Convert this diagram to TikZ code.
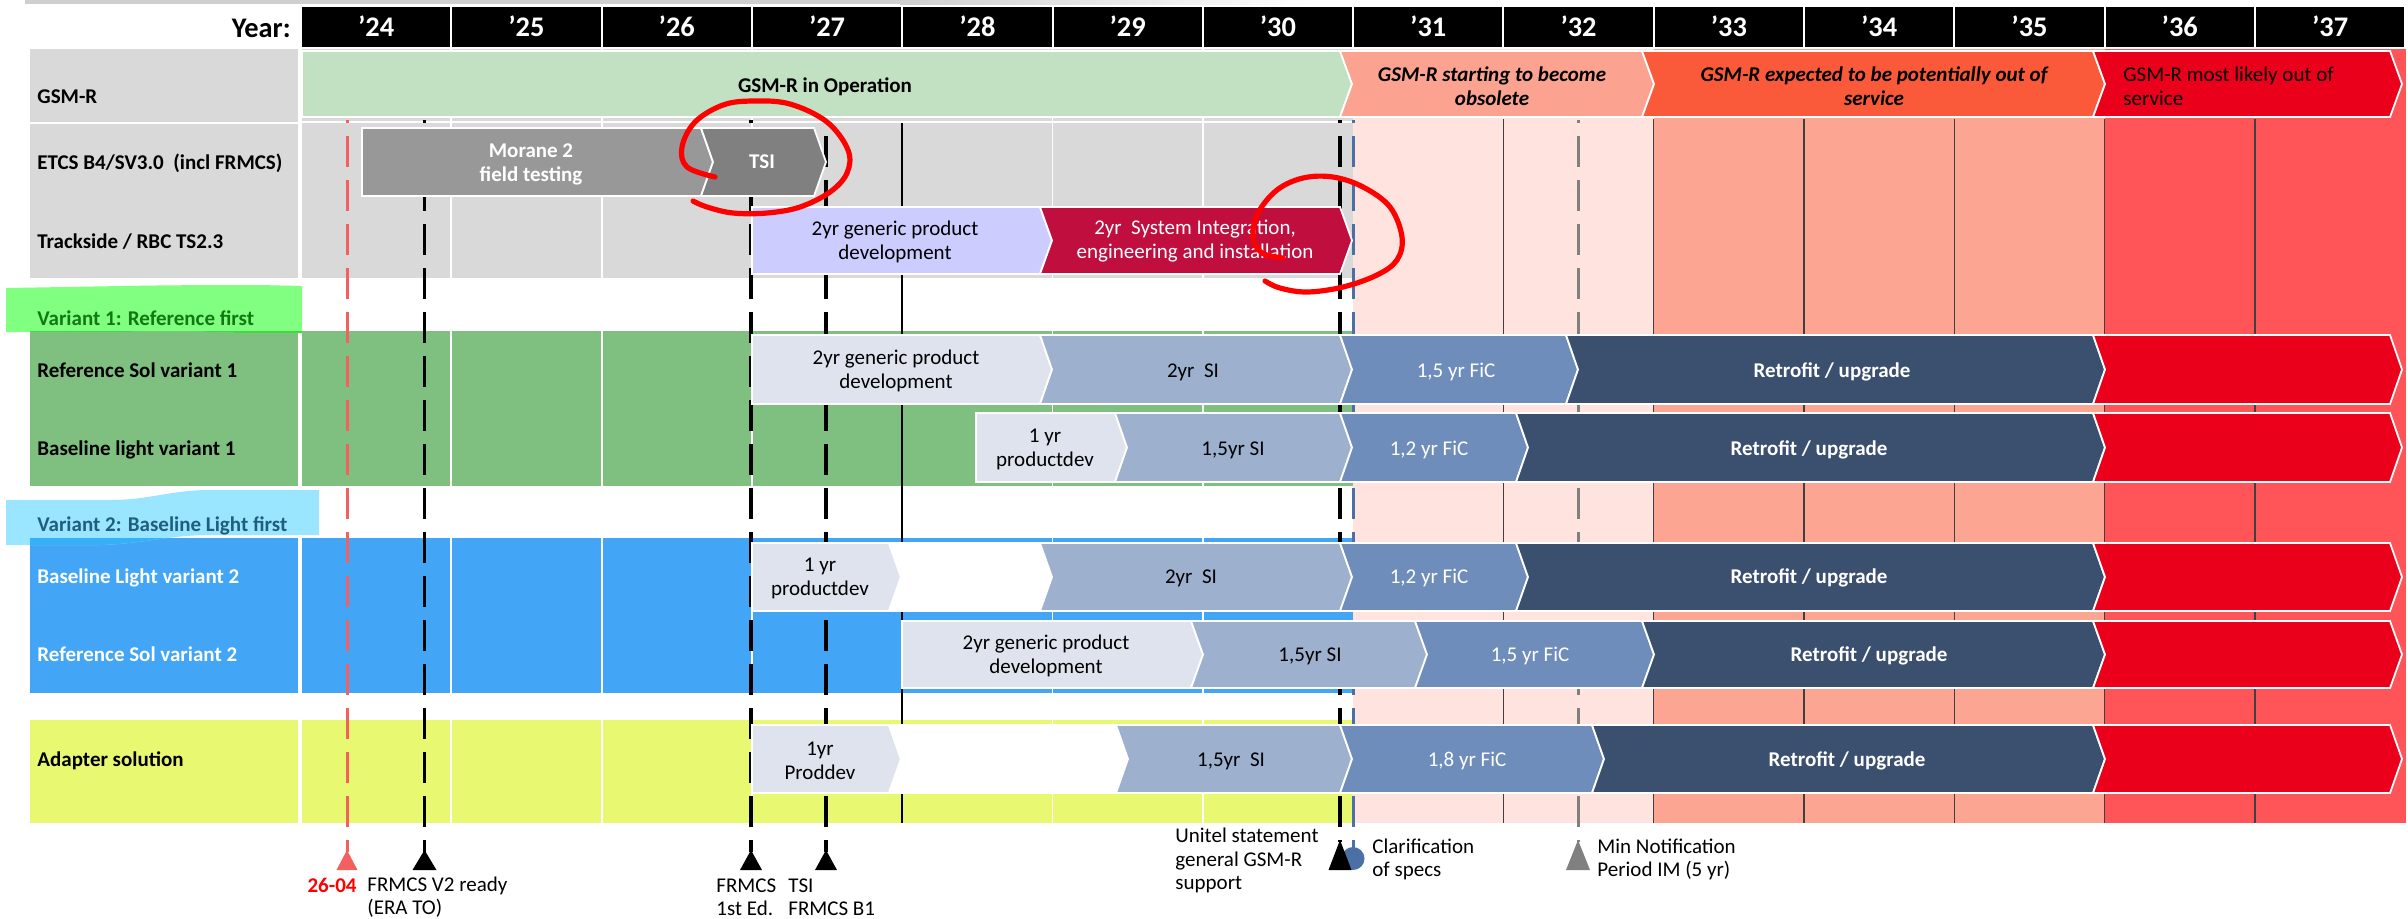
\documentclass[tikz,border=0pt]{standalone}
\usepackage{fontspec}
\setmainfont{Carlito}
\definecolor{lgray}{HTML}{D9D9D9}
\definecolor{shadowgray}{HTML}{CFCFCF}
\definecolor{gsmgreen}{HTML}{C2E0C2}
\definecolor{gsmsalmon}{HTML}{FBA291}
\definecolor{gsmorange}{HTML}{FB5A3A}
\definecolor{gsmred}{HTML}{EA001B}
\definecolor{bgpink}{HTML}{FEE3DF}
\definecolor{bgsalmon}{HTML}{FCA592}
\definecolor{bgred}{HTML}{FF5458}
\definecolor{rowgreen}{HTML}{7FBF7F}
\definecolor{rowblue}{HTML}{42A5F5}
\definecolor{rowyellow}{HTML}{E8F870}
\definecolor{hlgreen}{HTML}{80FF80}
\definecolor{hlgreenx}{HTML}{45D545}
\definecolor{hlblue}{HTML}{9AE5FF}
\definecolor{hlbluex}{HTML}{38B0F8}
\definecolor{vgreen}{HTML}{127812}
\definecolor{vblue}{HTML}{1F5E7E}
\definecolor{cLight}{HTML}{DEE3EE}
\definecolor{cMid}{HTML}{9DB0CE}
\definecolor{cSteel}{HTML}{6F8DBA}
\definecolor{cNavy}{HTML}{3A506E}
\definecolor{cLav}{HTML}{CCCCFF}
\definecolor{cCrim}{HTML}{C00E3E}
\definecolor{cMorane}{HTML}{989898}
\definecolor{cTSI}{HTML}{808080}
\definecolor{mkred}{HTML}{F45F5F}
\definecolor{mkblue}{HTML}{4B70A6}
\definecolor{mkgray}{HTML}{808080}
\definecolor{gridline}{HTML}{404040}
\definecolor{datered}{HTML}{FF0000}

% chevron: fill, left x, tip x, top y, bottom y, notch depth
\newcommand{\chevshape}[6]{%
  \filldraw[chev,fill=#1] (#2,#4) -- ({#3-12},#4) -- (#3,{(#4+#5)/2})
    -- ({#3-12},#5) -- (#2,#5) -- ({#2+#6},{(#4+#5)/2}) -- cycle;}

\newcommand{\bodyfont}{\fontsize{10.5}{12}\selectfont}

\tikzset{
  chev/.style={draw=white,line width=0.9pt,line join=miter},
  ctxt/.style={inner sep=0pt,align=center,font=\bodyfont},
  one/.style={text height=6.6pt,text depth=0pt},
  wtxt/.style={ctxt,text=white},
  btxt/.style={ctxt,text=white,font=\bfseries\bodyfont},
  gsmtxt/.style={ctxt,font=\bfseries\itshape\bodyfont},
  rowlbl/.style={anchor=west,inner sep=0pt,font=\bfseries\bodyfont,text height=6.6pt,text depth=0pt},
  yearlbl/.style={inner sep=0pt,text=white,font=\bfseries\fontsize{14.2}{16}\selectfont,text height=9pt,text depth=0pt},
  botlbl/.style={anchor=west,inner sep=0pt,align=left,font=\fontsize{10.5}{11.5}\selectfont},
  marker/.style={line width=1.75pt,dash pattern=on 15.5pt off 6.5pt,dash phase=14pt},
  ink/.style={draw=red,line width=2.6pt,line cap=round,line join=round}
}

\begin{document}
\begin{tikzpicture}[x=0.5pt,y=-0.5pt]
\useasboundingbox (0,0) rectangle (2408,918);

% faint rule above the header
\fill[shadowgray] (25,0) rectangle (900,4);
\shade[left color=shadowgray,right color=white] (900,0) rectangle (1315,4);

% year header
\node[anchor=east,inner sep=0pt,font=\bfseries\fontsize{14.2}{16}\selectfont,text height=9pt,text depth=0pt] (yearhdr) at (291,28) {Year:};
\foreach \k/\yr in {0/24,1/25,2/26,3/27,4/28,5/29,6/30,7/31,8/32,9/33,10/34,11/35,12/36,13/37}{
  \fill[black] ({301+150.3*\k+1},7) rectangle ({301+150.3*(\k+1)-1},47);
  \node[yearlbl] (yr\yr) at ({301+150.3*(\k+0.5)},27.5) {’\yr};
}

% row backgrounds
\fill[lgray] (30,49) rectangle (298,122);
\fill[lgray] (302,49) rectangle (1353,121);
\fill[lgray] (30,124) rectangle (298,278);
\fill[lgray] (302,123) rectangle (1353,278);
\fill[rowgreen] (30,331) rectangle (1353,486);
\fill[rowblue] (30,538) rectangle (1353,693);
\fill[rowyellow] (30,720) rectangle (1353,823);

% GSM-R phase-out background
\fill[bgpink] (1353,49) rectangle (1654,823);
\fill[bgsalmon] (1654,49) rectangle (2105,823);
\fill[bgred] (2105,49) rectangle (2406,823);

% year grid
\draw[white,line width=2pt] (300,49) -- (300,823);
\foreach \k in {1,2,3,5,6}{
  \draw[white,line width=0.9pt] ({301+150.3*\k},49) -- ({301+150.3*\k},823);
}
\draw[black,line width=0.6pt] (902,123) -- (902,823);
\foreach \k in {8,...,13}{
  \draw[gridline,line width=0.75pt] ({301+150.3*\k},119) -- ({301+150.3*\k},823);
}

% variant headings (highlighter strokes)
\fill[hlgreen] (6,288) -- (122,286) .. controls (180,285) and (220,285) .. (260,285)
  -- (302,286) -- (302,333) -- (240,333) .. controls (200,331) and (160,331) .. (120,332) -- (6,332) -- cycle;
\begin{scope}
  \clip (30,331) rectangle (1353,486);
  \fill[hlgreenx] (6,288) -- (302,286) -- (302,333) -- (240,333) .. controls (200,331) and (160,331) .. (120,332) -- (6,332) -- cycle;
\end{scope}
\fill[hlblue] (6,500) -- (110,500) .. controls (150,500) and (170,490) .. (210,490) -- (319,490)
  -- (319,535) -- (210,535) .. controls (170,535) and (140,544) .. (100,545) -- (6,545) -- cycle;
\begin{scope}
  \clip (30,538) rectangle (1353,693);
  \fill[hlbluex] (6,500) -- (319,490) -- (319,535) -- (210,535) .. controls (170,535) and (140,544) .. (100,545) -- (6,545) -- cycle;
\end{scope}

% row labels
\node[rowlbl] (lgsm) at (37,97) {GSM-R};
\node[rowlbl] (letcs) at (37,163) {ETCS B4/SV3.0~ (incl FRMCS)};
\node[rowlbl] (ltrack) at (37,242) {Trackside / RBC TS2.3};
\node[rowlbl,text=vgreen] (lvar1) at (37,318.5) {Variant 1: Reference first};
\node[rowlbl] (lref1) at (37,371) {Reference Sol variant 1};
\node[rowlbl] (lbase1) at (37,449) {Baseline light variant 1};
\node[rowlbl,text=vblue] (lvar2) at (37,525) {Variant 2: Baseline Light first};
\node[rowlbl,text=white] (lbase2) at (37,577) {Baseline Light variant 2};
\node[rowlbl,text=white] (lref2) at (37,655) {Reference Sol variant 2};
\node[rowlbl] (ladapt) at (37,760) {Adapter solution};

% milestone lines
\coordinate (m1t) at (347,120);    \coordinate (m1b) at (347,852);
\coordinate (m2t) at (424.5,120);  \coordinate (m2b) at (424.5,852);
\coordinate (m3t) at (751,120);    \coordinate (m3b) at (751,852);
\coordinate (m4t) at (826,120);    \coordinate (m4b) at (826,852);
\coordinate (m5t) at (1340,120);   \coordinate (m5b) at (1340,842);
\coordinate (m6t) at (1353,120);   \coordinate (m6b) at (1353,850);
\coordinate (m7t) at (1578,120);   \coordinate (m7b) at (1578,842);
\draw[marker,mkred,line width=1.5pt] (m1t) -- (m1b);
\draw[marker,black] (m2t) -- (m2b);
\draw[marker,black] (m3t) -- (m3b);
\draw[marker,black] (m4t) -- (m4b);
\draw[marker,black] (m5t) -- (m5b);
\draw[marker,mkblue,line width=1.5pt] (m6t) -- (m6b);
\draw[marker,mkgray,line width=1.5pt] (m7t) -- (m7b);

% GSM-R status
\chevshape{gsmgreen}{302}{1352}{51}{117}{0}
\chevshape{gsmsalmon}{1340}{1654}{51}{117}{12}
\chevshape{gsmorange}{1642}{2105}{51}{117}{12}
\chevshape{gsmred}{2093}{2402}{51}{117}{12}
\node[ctxt,one,font=\bfseries\bodyfont] (gsmop) at (825,85.5) {GSM-R in Operation};
\node[gsmtxt] (gsmobs) at (1492,86) {GSM-R starting to become\\obsolete};
\node[gsmtxt] (gsmout) at (1874,86) {GSM-R expected to be potentially out of\\service};
\node[ctxt,anchor=west,align=left] (gsmgone) at (2123,86) {GSM-R most likely out of\\service};

% ETCS
\chevshape{cMorane}{362}{713}{128}{196}{0}
\chevshape{cTSI}{701}{826}{128}{196}{12}
\node[btxt] (morane) at (531,164) {Morane 2\\field testing};
\node[btxt,one] (tsi) at (762,162) {TSI};

% Trackside
\chevshape{cLav}{752}{1052}{207}{274}{0}
\chevshape{cCrim}{1040}{1352}{207}{274}{12}
\node[ctxt] (trkdev) at (895,241.5) {2yr generic product\\development};
\node[wtxt] (trksi) at (1195,241.5) {2yr~ System Integration,\\engineering and installation};

% Reference Sol variant 1
\chevshape{cLight}{752}{1052}{335}{404}{0}
\chevshape{cMid}{1040}{1352}{335}{404}{12}
\chevshape{cSteel}{1340}{1578}{335}{404}{12}
\chevshape{cNavy}{1566}{2105}{335}{404}{12}
\chevshape{gsmred}{2093}{2402}{335}{404}{12}
\node[ctxt] (r1dev) at (896,371) {2yr generic product\\development};
\node[ctxt,one] (r1si) at (1193,371) {2yr~ SI};
\node[wtxt,one] (r1fic) at (1456,371) {1,5 yr FiC};
\node[btxt,one] (r1ret) at (1832,371) {Retrofit / upgrade};

% Baseline light variant 1
\chevshape{cLight}{976}{1127}{413}{482}{0}
\chevshape{cMid}{1115}{1352}{413}{482}{12}
\chevshape{cSteel}{1340}{1528}{413}{482}{12}
\chevshape{cNavy}{1516}{2105}{413}{482}{12}
\chevshape{gsmred}{2093}{2402}{413}{482}{12}
\node[ctxt] (b1dev) at (1045,449.5) {1 yr\\productdev};
\node[ctxt,one] (b1si) at (1233,449) {1,5yr SI};
\node[wtxt,one] (b1fic) at (1429,449) {1,2 yr FiC};
\node[btxt,one] (b1ret) at (1809,449) {Retrofit / upgrade};

% Baseline Light variant 2
\chevshape{cLight}{752}{901}{543}{611}{0}
\chevshape{white}{889}{1052}{543}{611}{12}
\chevshape{cMid}{1040}{1352}{543}{611}{12}
\chevshape{cSteel}{1340}{1528}{543}{611}{12}
\chevshape{cNavy}{1516}{2105}{543}{611}{12}
\chevshape{gsmred}{2093}{2402}{543}{611}{12}
\node[ctxt] (b2dev) at (820,578) {1 yr\\productdev};
\node[ctxt,one] (b2si) at (1191,577) {2yr~ SI};
\node[wtxt,one] (b2fic) at (1429,577) {1,2 yr FiC};
\node[btxt,one] (b2ret) at (1809,577) {Retrofit / upgrade};

% Reference Sol variant 2
\chevshape{cLight}{902}{1203}{621}{688}{0}
\chevshape{cMid}{1191}{1427}{621}{688}{12}
\chevshape{cSteel}{1415}{1654}{621}{688}{12}
\chevshape{cNavy}{1642}{2105}{621}{688}{12}
\chevshape{gsmred}{2093}{2402}{621}{688}{12}
\node[ctxt] (r2dev) at (1046,655.5) {2yr generic product\\development};
\node[ctxt,one] (r2si) at (1310,655) {1,5yr SI};
\node[wtxt,one] (r2fic) at (1530,655) {1,5 yr FiC};
\node[btxt,one] (r2ret) at (1869,655) {Retrofit / upgrade};

% Adapter solution
\chevshape{cLight}{752}{901}{725}{793}{0}
\chevshape{white}{889}{1128}{725}{793}{12}
\chevshape{cMid}{1116}{1352}{725}{793}{12}
\chevshape{cSteel}{1340}{1604}{725}{793}{12}
\chevshape{cNavy}{1592}{2105}{725}{793}{12}
\chevshape{gsmred}{2093}{2402}{725}{793}{12}
\node[ctxt] (adev) at (820,760.5) {1yr\\Proddev};
\node[ctxt,one] (asi) at (1231,760) {1,5yr~ SI};
\node[wtxt,one] (afic) at (1467,760) {1,8 yr FiC};
\node[btxt,one] (aret) at (1847,760) {Retrofit / upgrade};

% milestone markers
\fill[mkred] (m1b) ++(0,-2) -- ++(-10.5,20) -- ++(21,0) -- cycle;
\fill[black] (m2b) ++(0,-2) -- ++(-12,20) -- ++(24,0) -- cycle;
\fill[black] (m3b) ++(0,-2) -- ++(-11,20) -- ++(22,0) -- cycle;
\fill[black] (m4b) ++(0,-2) -- ++(-11,20) -- ++(22,0) -- cycle;
\fill[mkblue] (1353,858.5) ellipse [x radius=11.5,y radius=11.5];
\fill[black] (m5b) ++(0,-2) -- ++(-11.5,30) -- ++(23,0) -- cycle;
\fill[mkgray] (m7b) ++(0,-2) -- ++(-12,30) -- ++(24,0) -- cycle;

% milestone labels
\node[anchor=east,inner sep=0pt,text=datered,font=\bfseries\fontsize{10.5}{11.5}\selectfont,text height=6.6pt,text depth=0pt] (d2604) at (357,886) {26-04};
\node[botlbl] (frmcsv2) at (367,897.5) {FRMCS V2 ready\\(ERA TO)};
\node[botlbl] (frmcs1) at (716,897.5) {FRMCS\\1st Ed.};
\node[botlbl] (tsib1) at (788,897.5) {TSI\\FRMCS B1};
\node[botlbl,font=\fontsize{10.5}{11.75}\selectfont] (unitel) at (1175,860.5) {Unitel statement\\general GSM-R\\support};
\node[botlbl] (clarif) at (1372,859) {Clarification\\of specs};
\node[botlbl] (minnot) at (1597,859) {Min Notification\\Period IM (5 yr)};

% hand-drawn red rings
\draw[ink] plot[smooth,tension=0.6] coordinates {(715,177) (687,167) (682,147) (695,122) (723,105) (753,101) (790,104) (827,122) (848,150) (847,173) (830,192) (800,207) (767,213) (733,213) (707,207) (693,201)};
\draw[ink] plot[smooth,tension=0.6] coordinates {(1283,258) (1262,253) (1253,237) (1258,213) (1277,190) (1303,178) (1333,177) (1363,187) (1390,207) (1402,237) (1397,260) (1377,275) (1343,287) (1307,292) (1280,288) (1265,281)};

\end{tikzpicture}
\end{document}
